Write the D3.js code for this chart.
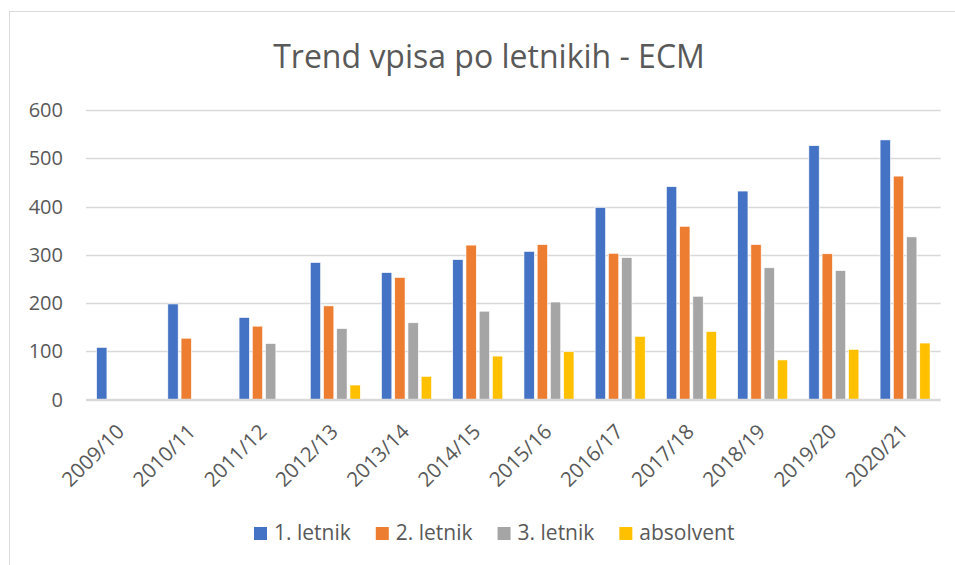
<!DOCTYPE html>
<html>
<head>
<meta charset="utf-8">
<script src="https://cdn.jsdelivr.net/npm/d3@7"></script>
<style>
  body { margin: 0; background: #fff; }
  text { font-family: "Open Sans", sans-serif; fill: #595959; }
</style>
</head>
<body>
<svg id="chart" width="955" height="565"></svg>
<script>
'use strict';

var categories = ['2009/10', '2010/11', '2011/12', '2012/13', '2013/14', '2014/15',
	'2015/16', '2016/17', '2017/18', '2018/19', '2019/20', '2020/21'];
var seriesNames = ['1. letnik', '2. letnik', '3. letnik', 'absolvent'];
var letnik1 = [108, 198, 170, 284, 263, 290, 307, 398, 441, 432, 526, 538];
var letnik2 = [null, 127, 152, 194, 253, 320, 321, 303, 359, 321, 302, 463];
var letnik3 = [null, null, 116, 147, 159, 183, 202, 294, 214, 273, 267, 337];
var absolvent = [null, null, null, 30, 48, 90, 99, 131, 141, 82, 104, 117];
var yTicks = [0, 100, 200, 300, 400, 500, 600];
var colors = ['#4472C4', '#ED7D31', '#A5A5A5', '#FFC000'];

var seriesValues = [letnik1, letnik2, letnik3, absolvent];

var svg = d3.select('#chart');

// chart border (runs off the right and bottom edge)
svg.append('rect')
	.attr('x', 9.5).attr('y', 11.5)
	.attr('width', 960).attr('height', 570)
	.attr('fill', 'none')
	.attr('stroke', '#d9d9d9');

svg.append('text')
	.attr('x', 489).attr('y', 68)
	.attr('text-anchor', 'middle')
	.style('font-size', '32px')
	.text('Trend vpisa po letnikih - ECM');

var x0 = d3.scaleBand().domain(categories).range([86, 940.7]);
var groupW = 50;
var x1 = d3.scaleBand().domain(seriesNames).range([0, groupW]).paddingInner(0.22);
var y = d3.scaleLinear().domain([0, 600]).range([399.5, 110]);

// gridlines
svg.append('g').selectAll('line').data(yTicks)
	.enter().append('line')
	.attr('x1', 86).attr('x2', 940.7)
	.attr('y1', function(d) { return Math.round(y(d)) + 0.5; })
	.attr('y2', function(d) { return Math.round(y(d)) + 0.5; })
	.attr('stroke', '#d9d9d9')
	.attr('stroke-width', 1.3);

// y labels
svg.append('g').selectAll('text').data(yTicks)
	.enter().append('text')
	.attr('x', 63)
	.attr('y', function(d) { return y(d) + 7; })
	.attr('text-anchor', 'end')
	.style('font-size', '20px')
	.text(function(d) { return d; });

// bars
var groups = svg.append('g').selectAll('g').data(categories)
	.enter().append('g')
	.attr('transform', function(c) {
		return 'translate(' + (x0(c) + (x0.bandwidth() - groupW) / 2) + ',0)'; });

groups.selectAll('rect')
	.data(function(c, i) {
		return seriesNames.map(function(s, j) {
			return {series: s, idx: j, value: seriesValues[j][i]}; })
			.filter(function(d) { return d.value != null; }); })
	.enter().append('rect')
	.attr('x', function(d) { return x1(d.series); })
	.attr('width', x1.bandwidth())
	.attr('y', function(d) { return y(d.value); })
	.attr('height', function(d) { return y(0) - y(d.value); })
	.attr('fill', function(d) { return colors[d.idx]; })
	.attr('stroke', '#fff')
	.attr('stroke-width', 0.6);

// axis line
svg.append('line')
	.attr('x1', 86).attr('x2', 940.7)
	.attr('y1', 399.5).attr('y2', 399.5)
	.attr('stroke', '#d9d9d9')
	.attr('stroke-width', 1.3);

// x labels
svg.append('g').selectAll('text').data(categories)
	.enter().append('text')
	.attr('transform', function(c) {
		return 'translate(' + (x0(c) + x0.bandwidth() / 2 + 4) + ',433) rotate(-45)'; })
	.attr('text-anchor', 'end')
	.style('font-size', '20.5px')
	.text(function(c) { return c; });

// legend
var legend = svg.append('g');
var lx = 254;
seriesNames.forEach(function(s, i) {
	legend.append('rect')
		.attr('x', lx).attr('y', 527)
		.attr('width', 13).attr('height', 13)
		.attr('fill', colors[i]);
	var t = legend.append('text')
		.attr('x', lx + 20).attr('y', 540)
		.style('font-size', '21px')
		.text(s);
	lx += 20 + t.node().getComputedTextLength() + 25;
});
</script>
</body>
</html>
